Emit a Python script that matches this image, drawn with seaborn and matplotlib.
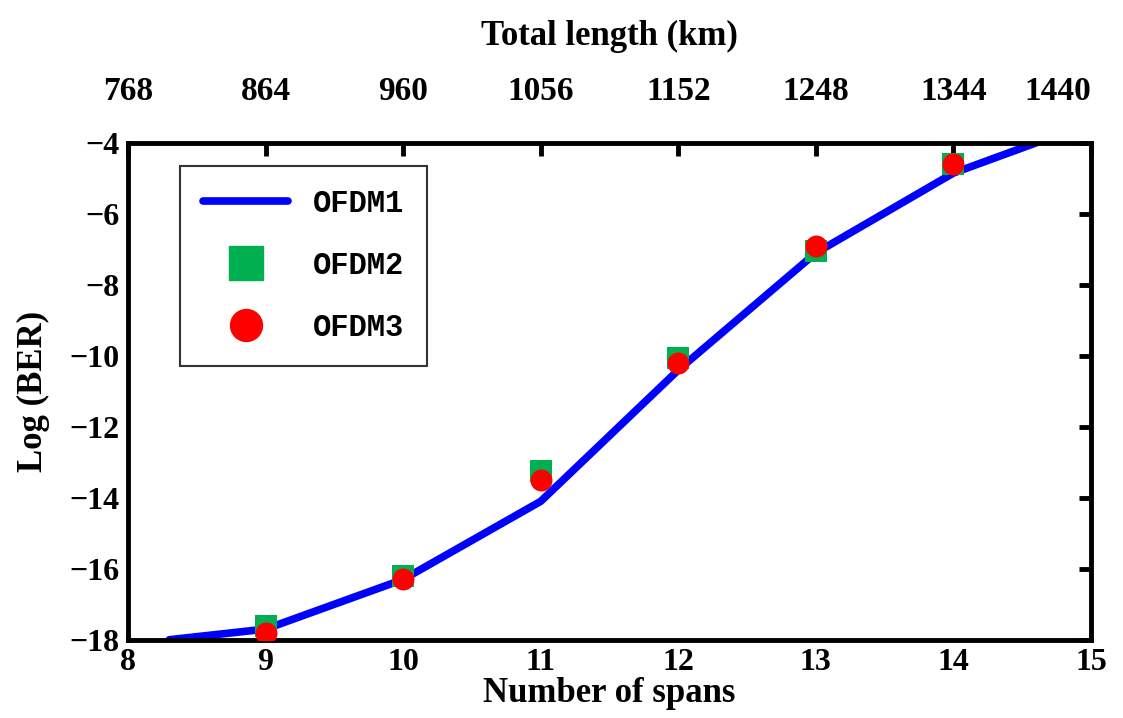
import numpy as np
import pandas as pd
import seaborn as sns
import matplotlib.pyplot as plt
from matplotlib.lines import Line2D

# OFDM1 curve (solid line)
spans_line = [8.3, 9, 10, 11, 12, 13, 14, 14.6]
ber_ofdm1 = [-18.0, -17.7, -16.3, -14.1, -10.4, -7.1, -4.85, -4.0]

# OFDM2 / OFDM3 markers
spans = [9, 10, 11, 12, 13, 14]
ber_ofdm2 = [-17.6, -16.2, -13.25, -10.05, -7.05, -4.6]
ber_ofdm3 = [-17.8, -16.3, -13.5, -10.2, -6.9, -4.6]

x_ticks = [8, 9, 10, 11, 12, 13, 14, 15]
km_ticks = [768, 864, 960, 1056, 1152, 1248, 1344, 1440]
y_ticks = [-18, -16, -14, -12, -10, -8, -6, -4]

sns.set_style("white")
plt.rcParams['font.family'] = ['Liberation Serif', 'DejaVu Serif']
plt.rcParams['font.weight'] = 'bold'
plt.rcParams['axes.labelweight'] = 'bold'
plt.rcParams['text.color'] = 'black'
plt.rcParams['axes.labelcolor'] = 'black'
plt.rcParams['xtick.color'] = 'black'
plt.rcParams['ytick.color'] = 'black'

df_line = pd.DataFrame({'spans': spans_line, 'ber': ber_ofdm1})
df_pts = pd.DataFrame({'spans': spans, 'ofdm2': ber_ofdm2, 'ofdm3': ber_ofdm3})

fig = plt.figure(figsize=(11.23, 7.18), dpi=100)
ax = fig.add_axes([0.114, 0.109, 0.8575, 0.692])

sns.lineplot(x='spans', y='ber', data=df_line, color='#0000FF', linewidth=5.5, ax=ax, zorder=2)
sns.scatterplot(x='spans', y='ofdm2', data=df_pts, marker='s', color='#00B050', s=270,
                linewidth=0, ax=ax, zorder=3)
sns.scatterplot(x='spans', y='ofdm3', data=df_pts, marker='o', color='#FF0000', s=250,
                linewidth=0, ax=ax, zorder=4)

ax.set_xlim(8, 15)
ax.set_ylim(-18, -4)
ax.set_xticks(x_ticks)
ax.set_yticks(y_ticks)
ax.set_xticklabels([str(t) for t in x_ticks])
ax.set_yticklabels(['\u2212' + str(abs(t)) for t in y_ticks])
ax.tick_params(axis='both', direction='in', length=9, width=3.5, labelsize=23,
               top=True, right=True, pad=6, colors='black')
for s in ax.spines.values():
    s.set_linewidth(3.5)
    s.set_color('black')

ax.set_xlabel('Number of spans', fontsize=25, labelpad=0, color='black')
ax.set_ylabel('Log (BER)', fontsize=25, labelpad=14, color='black')

# top axis: total length = spans * 96 km
sec = ax.secondary_xaxis('top', functions=(lambda x: x * 96, lambda k: k / 96))
sec.set_xticks(km_ticks)
sec.set_xticklabels([str(k) for k in km_ticks])
sec.tick_params(axis='x', length=0, labelsize=24, pad=26, colors='black')
sec.spines['top'].set_visible(False)
sec.set_xlabel('Total length (km)', fontsize=25, labelpad=22, color='black')
sec.get_xticklabels()[-1].set_horizontalalignment('right')

handles = [
    Line2D([], [], color='#0000FF', linewidth=5.5),
    Line2D([], [], color='#00B050', marker='s', linestyle='none', markersize=24),
    Line2D([], [], color='#FF0000', marker='o', linestyle='none', markersize=23),
]
leg = ax.legend(handles, ['OFDM1', 'OFDM2', 'OFDM3'], loc='upper left',
                bbox_to_anchor=(0.054, 0.954), borderaxespad=0, fancybox=False,
                frameon=True, edgecolor='black', handlelength=2.8, handletextpad=0.8,
                labelspacing=1.05, borderpad=0.75,
                prop={'family': 'Liberation Mono', 'weight': 'bold', 'size': 22})
leg.get_frame().set_linewidth(1.5)
for t in leg.get_texts():
    t.set_color('black')

plt.savefig('out.png', dpi=100)
